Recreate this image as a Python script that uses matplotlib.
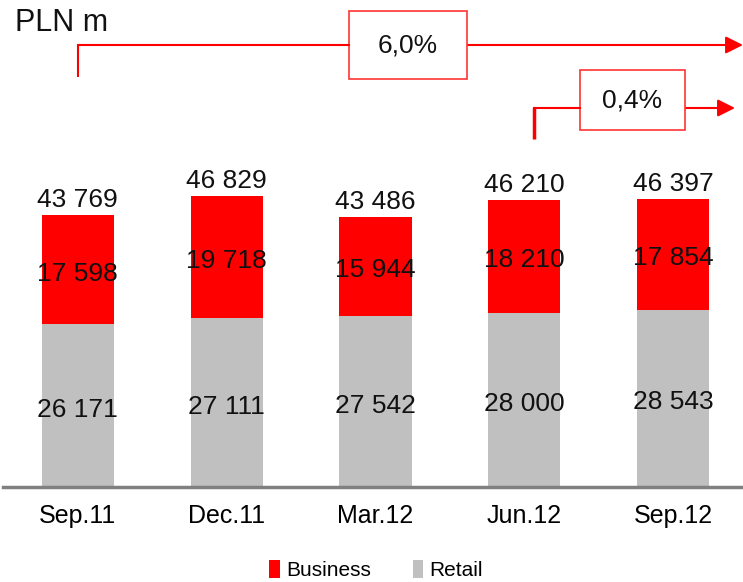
import matplotlib
matplotlib.use("Agg")
import matplotlib.pyplot as plt
from matplotlib.patches import Rectangle
from matplotlib.lines import Line2D

plt.rcParams["font.family"] = ["Liberation Sans", "DejaVu Sans"]

periods = ["Sep.11", "Dec.11", "Mar.12", "Jun.12", "Sep.12"]
retail = [26171, 27111, 27542, 28000, 28543]
business = [17598, 19718, 15944, 18210, 17854]
totals = [43769, 46829, 43486, 46210, 46397]
growth_labels = ["6,0%", "0,4%"]
growth_from = [0, 3]   # period index where each bracket starts

RED, GREY, AXIS = "#ff0000", "#c0c0c0", "#808080"
W, H = 743, 582

def fmt(v):
    return f"{v:,}".replace(",", " ")

fig = plt.figure(figsize=(W / 100, H / 100), dpi=100)
ax = fig.add_axes([3 / W, 95 / H, 740 / W, 373 / H])
x = list(range(len(periods)))
ax.bar(x, retail, width=0.485, color=GREY, label="Retail", zorder=2)
ax.bar(x, business, width=0.485, bottom=retail, color=RED, label="Business", zorder=2)
ax.set_xlim(-0.503, 4.47)
ax.set_ylim(0, 60000)

for i in x:
    ax.annotate(fmt(retail[i]), (i, retail[i] / 2), xytext=(0, -3), textcoords="offset points",
                ha="center", va="center", fontsize=19, color="#111")
    ax.annotate(fmt(business[i]), (i, retail[i] + business[i] / 2), xytext=(0, -3),
                textcoords="offset points", ha="center", va="center", fontsize=19, color="#111")
    ax.annotate(fmt(totals[i]), (i, totals[i]), xytext=(0, 2), textcoords="offset points",
                ha="center", va="bottom", fontsize=19, color="#111")

ax.set_xticks(x)
ax.set_xticklabels(periods, fontsize=18)
ax.tick_params(axis="x", length=0, pad=12)
ax.set_yticks([])
for s in ["left", "right", "top"]:
    ax.spines[s].set_visible(False)
ax.spines["bottom"].set_color(AXIS)
ax.spines["bottom"].set_linewidth(2.5)

# growth brackets (pixel layout, x anchored to bar centres)
def px(xp, yp):
    return xp / W, 1 - yp / H

def bar_px(i):
    return ax.transData.transform((i, 0))[0]

fig.canvas.draw()
brackets = [
    # (y_line, y_bottom, x_end, box_x0, box_x1, box_y0, box_y1, lw, xshift)
    (45, 77, 743, 349, 467, 11, 79, 1.5, 0),
    (108, 139, 735, 580, 685, 70, 130, 1.5, 10),
]
for lab, i0, (yl, yb, xe, bx0, bx1, by0, by1, lw, sh) in zip(growth_labels, growth_from, brackets):
    xs = bar_px(i0) + sh
    fig.add_artist(Line2D([xs / W, xs / W], [1 - yb / H, 1 - yl / H], color=RED,
                          lw=lw + (1 if sh else 0), solid_capstyle="butt"))
    fig.add_artist(Line2D([xs / W, bx0 / W], [1 - yl / H, 1 - yl / H], color=RED, lw=lw))
    ax.annotate("", xy=px(xe, yl), xytext=px(bx1, yl), xycoords="figure fraction",
                textcoords="figure fraction",
                arrowprops=dict(arrowstyle="-|>,head_length=0.7,head_width=0.35",
                                color=RED, lw=lw, mutation_scale=15, shrinkA=0, shrinkB=0))
    fig.add_artist(Rectangle((bx0 / W, 1 - by1 / H), (bx1 - bx0) / W, (by1 - by0) / H,
                             facecolor="white", edgecolor="#ff3333", lw=1.2,
                             transform=fig.transFigure))
    fig.text((bx0 + bx1) / 2 / W, 1 - (by0 + by1) / 2 / H, lab, ha="center", va="center",
             fontsize=19, color="#111")

fig.text(15 / W, 1 - 23 / H, "PLN m", ha="left", va="center", fontsize=22, color="#111")

h, l = ax.get_legend_handles_labels()
fig.legend(h[::-1], l[::-1], loc="center", bbox_to_anchor=(376 / W, 1 - 570 / H), ncol=2,
           frameon=False, fontsize=15, handlelength=0.5, handleheight=1.0,
           handletextpad=0.3, columnspacing=2.0)

fig.savefig("out.png", dpi=100)
